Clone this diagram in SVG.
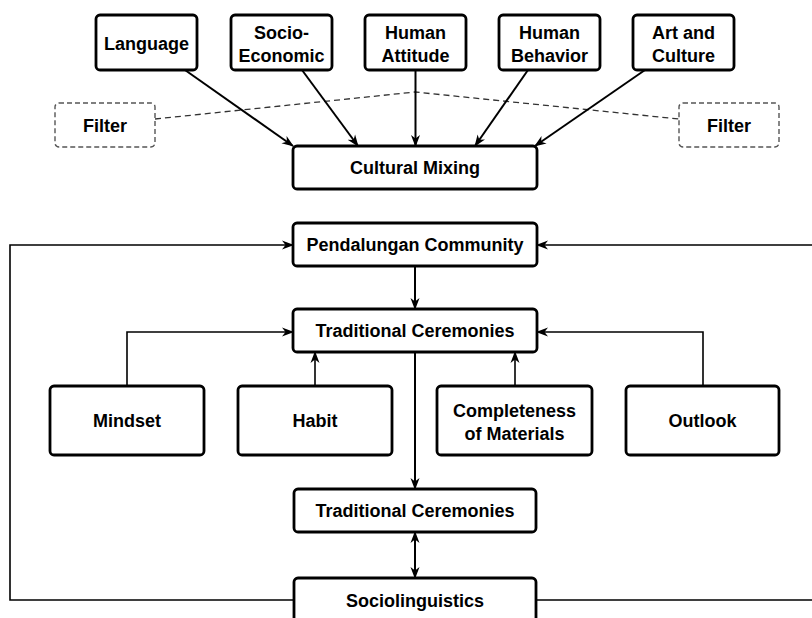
<svg xmlns="http://www.w3.org/2000/svg" width="812" height="618" viewBox="0 0 812 618">
<defs>
<marker id="ah" viewBox="0 0 12 10" refX="11" refY="5" markerWidth="12" markerHeight="10" markerUnits="userSpaceOnUse" orient="auto-start-reverse">
<path d="M0,0.5 L12,5 L0,9.5 L3.5,5 z" fill="#000"/>
</marker>
<style>
.box{fill:#fff;stroke:#000;stroke-width:2.8}
.dbox{fill:#fff;stroke:#555;stroke-width:1.4;stroke-dasharray:5 3}
.t{font-family:"Liberation Sans",Arial,sans-serif;font-weight:bold;font-size:18px;fill:#000;text-anchor:middle}
.c{fill:none;stroke:#000;stroke-width:2}
.c1{fill:none;stroke:#000;stroke-width:1.6}
.d{fill:none;stroke:#333;stroke-width:1.3;stroke-dasharray:6 4}
</style>
</defs>
<rect width="812" height="618" fill="#fff"/>
<g id="connectors">
<polyline class="d" points="155,119 415,92 679,119"/>
<line class="c" x1="185" y1="70" x2="293" y2="146" marker-end="url(#ah)"/>
<line class="c" x1="302" y1="70" x2="358" y2="146" marker-end="url(#ah)"/>
<line class="c" x1="415.5" y1="70" x2="415.5" y2="146" marker-end="url(#ah)"/>
<line class="c" x1="528" y1="70" x2="475" y2="146" marker-end="url(#ah)"/>
<line class="c" x1="645" y1="70" x2="535" y2="146" marker-end="url(#ah)"/>
<line class="c" x1="415" y1="266" x2="415" y2="309" marker-end="url(#ah)"/>
<polyline class="c1" points="127,386 127,332 293,332" marker-end="url(#ah)"/>
<line class="c1" x1="315" y1="386" x2="315" y2="352" marker-end="url(#ah)"/>
<line class="c1" x1="515" y1="386" x2="515" y2="352" marker-end="url(#ah)"/>
<polyline class="c1" points="703,386 703,332 537,332" marker-end="url(#ah)"/>
<line class="c" x1="415" y1="352" x2="415" y2="489" marker-end="url(#ah)"/>
<line class="c" x1="415" y1="532" x2="415" y2="578" marker-start="url(#ah)" marker-end="url(#ah)"/>
<polyline class="c1" points="294,600 10,600 10,245 293,245" marker-end="url(#ah)"/>
<polyline class="c1" points="536,600 813,600 813,245 537,245" marker-end="url(#ah)"/>
</g>
<g id="language"><rect class="box" x="96" y="15" width="101" height="55" rx="4"/><text class="t" x="146.5" y="50">Language</text></g>
<g id="socio-economic"><rect class="box" x="231" y="15" width="101" height="55" rx="4"/><text class="t" x="281.5" y="39">Socio-</text><text class="t" x="281.5" y="62">Economic</text></g>
<g id="human-attitude"><rect class="box" x="365" y="15" width="101" height="55" rx="4"/><text class="t" x="415.5" y="39">Human</text><text class="t" x="415.5" y="62">Attitude</text></g>
<g id="human-behavior"><rect class="box" x="499" y="15" width="101" height="55" rx="4"/><text class="t" x="549.5" y="39">Human</text><text class="t" x="549.5" y="62">Behavior</text></g>
<g id="art-culture"><rect class="box" x="633" y="15" width="101" height="55" rx="4"/><text class="t" x="683.5" y="39">Art and</text><text class="t" x="683.5" y="62">Culture</text></g>
<g id="filter-left"><rect class="dbox" x="55" y="103" width="100" height="44" rx="4"/><text class="t" x="105" y="131.5">Filter</text></g>
<g id="filter-right"><rect class="dbox" x="679" y="103" width="100" height="44" rx="4"/><text class="t" x="729" y="131.5">Filter</text></g>
<g id="cultural-mixing"><rect class="box" x="293" y="146" width="244" height="43" rx="4"/><text class="t" x="415" y="174">Cultural Mixing</text></g>
<g id="pendalungan"><rect class="box" x="293" y="223" width="244" height="43" rx="4"/><text class="t" x="415" y="251">Pendalungan Community</text></g>
<g id="traditional-1"><rect class="box" x="293" y="309" width="244" height="43" rx="4"/><text class="t" x="415" y="337">Traditional Ceremonies</text></g>
<g id="mindset"><rect class="box" x="50" y="386" width="154" height="69" rx="4"/><text class="t" x="127" y="427">Mindset</text></g>
<g id="habit"><rect class="box" x="238" y="386" width="154" height="69" rx="4"/><text class="t" x="315" y="427">Habit</text></g>
<g id="completeness"><rect class="box" x="437" y="386" width="155" height="69" rx="4"/><text class="t" x="514.5" y="417">Completeness</text><text class="t" x="514.5" y="440">of Materials</text></g>
<g id="outlook"><rect class="box" x="626" y="386" width="153" height="69" rx="4"/><text class="t" x="702.5" y="427">Outlook</text></g>
<g id="traditional-2"><rect class="box" x="294" y="489" width="242" height="43" rx="4"/><text class="t" x="415" y="517">Traditional Ceremonies</text></g>
<g id="sociolinguistics"><rect class="box" x="294" y="578" width="242" height="60" rx="4"/><text class="t" x="415" y="607">Sociolinguistics</text></g>
</svg>
